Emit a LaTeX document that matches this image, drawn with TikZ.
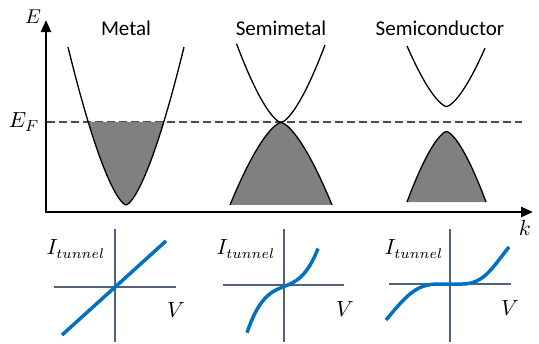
\documentclass[tikz,border=0pt]{standalone}
\usepackage{fontspec}
\setmainfont{Carlito}
\usepackage{tikz}
\usetikzlibrary{arrows.meta,positioning}
\definecolor{ivblue}{RGB}{0,112,192}
\definecolor{ivgray}{RGB}{84,98,120}
\definecolor{bandfill}{RGB}{128,128,128}

\begin{document}
\begin{tikzpicture}[
    x=0.5pt,y=-0.5pt,
    band/.style={draw=black,line width=0.65pt},
    filled/.style={fill=bandfill},
    axis/.style={draw=black,line width=1.25pt},
    ivaxis/.style={draw=ivgray,line width=0.75pt},
    ivcurve/.style={draw=ivblue,line width=1.75pt},
    title/.style={font=\fontsize{10.5}{12}\selectfont},
    lbl/.style={inner sep=0pt,font=\fontsize{11}{13}\selectfont},
    >={Triangle[length=6pt,width=5pt]}
]
\useasboundingbox (0,0) rectangle (539,343);

% band diagram axes
\coordinate (O) at (46,212);
\coordinate (Etop) at (46,20);
\coordinate (kend) at (533,212);
\draw[axis,<->] (Etop) -- (O) -- (kend);
\node[lbl,font=\fontsize{10}{12}\selectfont] (E) at (33,17) {$E$};
\node[lbl] (k) at (525,228) {$k$};

% Fermi level
\coordinate (EFl) at (47,122);
\coordinate (EFr) at (522,122);
\draw[draw=black!70,line width=0.6pt,dash pattern=on 4pt off 2pt] (EFl) -- (EFr);
\node[lbl] (EF) at (24,122) {$E_F$};

% metal
\fill[filled] plot[domain=88.2:163.8,samples=40] (\x,{205-0.3577*pow(abs(\x-126),1.5)}) -- cycle;
\draw[band] plot[domain=68:184,samples=60] (\x,{205-0.3577*pow(abs(\x-126),1.5)});
\node[title] (metal) at (126,28) {Metal};

% semimetal
\draw[band] plot[domain=236.5:325,samples=50] (\x,{122.5-0.2655*pow(abs(\x-281),1.5)});
\fill[filled] plot[domain=230:332,samples=50] (\x,{122.5+0.2265*pow(abs(\x-281),1.5)}) -- cycle;
\draw[band] plot[domain=230:332,samples=50] (\x,{122.5+0.2265*pow(abs(\x-281),1.5)});
\node[title] (semimetal) at (281,28) {Semimetal};

% semiconductor
\draw[band] plot[domain=407:485,samples=50] (\x,{106.5-0.2443*pow(abs(\x-446.5),1.5)});
\fill[filled] plot[domain=407:486,samples=50] (\x,{131.5+0.284*pow(abs(\x-446.5),1.5)}) -- cycle;
\draw[band] plot[domain=407:486,samples=50] (\x,{131.5+0.284*pow(abs(\x-446.5),1.5)});
\node[title] (semicond) at (440,28) {Semiconductor};

% I-V curves
\foreach \cx/\cy/\xl/\xr [count=\i] in {115/287/54/176, 284/285/223/344, 450/284/389/511}{
  \coordinate (vt\i) at (\cx,229);
  \coordinate (vb\i) at (\cx,342);
  \coordinate (hl\i) at (\xl,\cy);
  \coordinate (hr\i) at (\xr,\cy);
  \draw[ivaxis] (vt\i) -- (vb\i);
  \draw[ivaxis] (hl\i) -- (hr\i);
}
\draw[ivcurve] (62,335) -- (166,241);
\draw[ivcurve] plot[domain=-3.7:3.4,samples=50] ({284+10*\x},{286.5-4*\x-0.62*\x*\x*\x});
\draw[ivcurve] (386,320) .. controls (406,296) and (416,284) .. (438,284)
  -- (462,284) .. controls (484,284) and (492,268) .. (509,247);

\node[lbl,font=\fontsize{10.5}{12}\selectfont] (I1) at (76,249) {$I_{tunnel}$};
\node[lbl,font=\fontsize{10.5}{12}\selectfont] (I2) at (246,249) {$I_{tunnel}$};
\node[lbl,font=\fontsize{10.5}{12}\selectfont] (I3) at (414,249) {$I_{tunnel}$};
\node[lbl] (V1) at (176,310) {$V$};
\node[lbl] (V2) at (345,309) {$V$};
\node[lbl] (V3) at (510,308) {$V$};
\end{tikzpicture}
\end{document}
